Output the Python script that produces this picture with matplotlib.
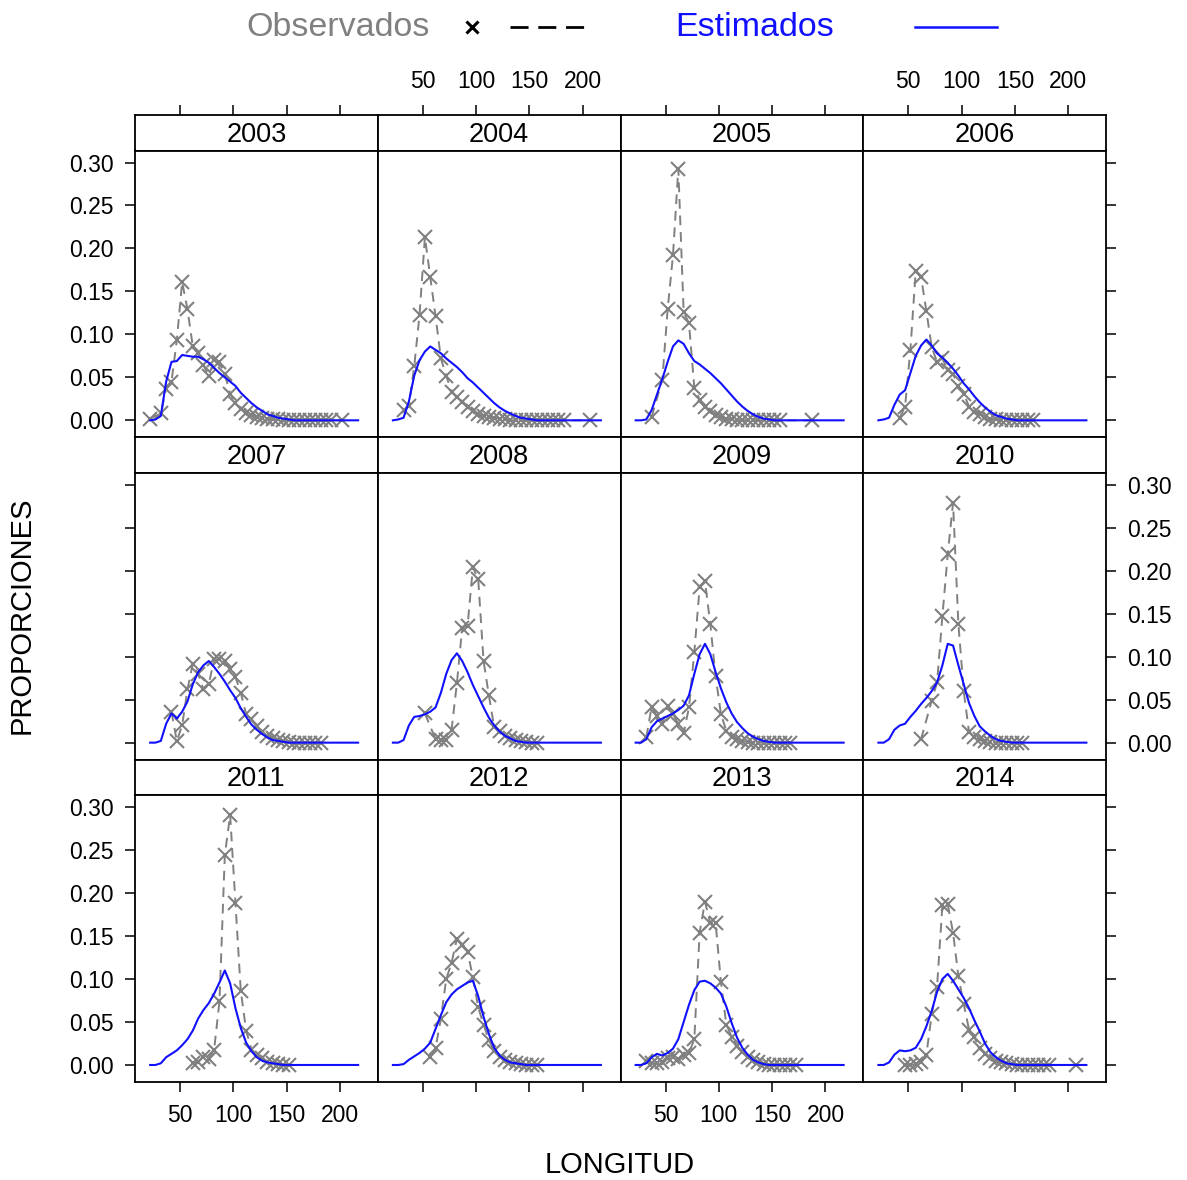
import numpy as np
import matplotlib
matplotlib.use('Agg')
import matplotlib.pyplot as plt
from matplotlib.lines import Line2D

nan = np.nan

# --- datos ---
longitud = [22, 27, 32, 37, 42, 47, 52, 57, 62, 67,
            72, 77, 82, 87, 92, 97, 102, 107, 112, 117,
            122, 127, 132, 137, 142, 147, 152, 157, 162, 167,
            172, 177, 182, 187, 192, 197, 202, 207, 212, 217]
anios = [2003, 2004, 2005, 2006, 2007, 2008, 2009, 2010, 2011, 2012, 2013, 2014]

z10 = [0]*10
n10 = [nan]*10

obs_2003 = [.002, nan, .008, .037, .045, .093, .161, .129, .086, .078,
            .064, .052, .070, .068, .054, .031, .020, .013, .009, .006,
            .004, .003, .002, .001, .001, 0, 0, 0, 0, 0,
            0, 0, 0, 0, 0, nan, 0, nan, nan, nan]
est_2003 = [0, .001, .005, .045, .068, .069, .076, .075, .074, .074,
            .071, .067, .061, .055, .050, .045, .040, .032, .026, .020,
            .015, .011, .007, .005, .003, .002, .001, 0, 0, 0] + z10

obs_2004 = [nan, nan, .012, .017, .063, .123, .213, .167, .121, .072,
            .052, .033, .027, .021, .016, .011, .007, .005, .004, .003,
            .002, .001, 0, 0, 0, 0, 0, 0, 0, 0,
            0, 0, 0, nan, nan, nan, nan, 0, nan, nan]
est_2004 = [0, .001, .003, .022, .052, .070, .080, .086, .082, .078,
            .072, .067, .062, .056, .049, .044, .038, .032, .026, .020,
            .015, .011, .008, .005, .003, .002, .001, 0, 0, 0] + z10

obs_2005 = [nan, nan, nan, .004, nan, .047, .129, .192, .293, .126,
            .113, .038, .024, .016, .011, .006, .004, .002, .001, 0,
            0, 0, 0, 0, 0, 0, 0, 0, nan, nan,
            nan, nan, nan, 0, nan, nan, nan, nan, nan, nan]
est_2005 = [0, 0, .001, .012, .030, .048, .068, .086, .093, .089,
            .078, .069, .065, .060, .055, .049, .043, .036, .029, .022,
            .016, .011, .007, .004, .002, .001, 0, 0, 0, 0] + z10

obs_2006 = [nan, nan, nan, nan, .003, .016, .082, .174, .167, .127,
            .085, .068, .072, .058, .054, .040, .031, .016, .010, .007,
            .004, .002, .001, 0, 0, 0, 0, 0, 0, 0] + n10
est_2006 = [0, .001, .003, .018, .030, .035, .055, .075, .087, .094,
            .087, .078, .073, .067, .060, .052, .043, .036, .028, .021,
            .015, .010, .006, .004, .002, .001, 0, 0, 0, 0] + z10

obs_2007 = [nan, nan, nan, nan, .036, .002, .020, .062, .092, .080,
            .062, .068, .097, .097, .095, .086, .076, .058, .033, .027,
            .019, .012, .008, .005, .003, .002, .001, 0, 0, 0,
            0, 0, 0, nan, nan, nan, nan, nan, nan, nan]
est_2007 = [0, 0, .002, .022, .034, .028, .036, .048, .068, .082,
            .090, .095, .088, .080, .071, .061, .052, .040, .030, .021,
            .015, .010, .006, .003, .002, .001, 0, 0, 0, 0] + z10

obs_2008 = [nan, nan, nan, nan, nan, nan, .034, nan, .004, .003,
            .003, .015, .069, .134, .136, .204, .190, .095, .055, .018,
            .013, .008, .005, .003, .002, .001, 0, 0, nan, nan] + n10
est_2008 = [0, 0, .003, .020, .030, .031, .033, .036, .041, .058,
            .080, .096, .104, .095, .082, .067, .054, .041, .029, .020,
            .013, .008, .005, .002, .001, 0, 0, 0, 0, 0] + z10

obs_2009 = [nan, nan, .006, .042, .031, .022, .043, .033, .022, .011,
            .041, .105, .181, .188, .138, .077, .033, .014, .006, .004,
            .002, .001, 0, 0, 0, 0, 0, 0, 0, 0] + n10
est_2009 = [0, 0, .004, .018, .025, .028, .031, .034, .038, .043,
            .055, .080, .103, .115, .103, .082, .063, .047, .034, .024,
            .017, .011, .007, .004, .002, .001, 0, 0, 0, 0] + z10

obs_2010 = [nan, nan, nan, nan, nan, nan, nan, nan, .004, nan,
            .049, .070, .147, .219, .279, .138, .060, .012, .007, .004,
            .002, .001, 0, 0, 0, 0, 0, 0, nan, nan] + n10
est_2010 = [0, 0, .004, .015, .020, .022, .030, .037, .045, .052,
            .060, .070, .090, .115, .113, .090, .068, .046, .031, .019,
            .013, .008, .004, .002, .001, 0, 0, 0, 0, 0] + z10

obs_2011 = [nan, nan, nan, nan, nan, nan, nan, nan, .002, .004,
            .009, .007, .018, .074, .244, .291, .188, .086, .040, .018,
            .012, .008, .004, .002, .001, 0, 0, nan, nan, nan] + n10
est_2011 = [0, 0, .002, .009, .013, .017, .023, .030, .040, .054,
            .064, .072, .083, .096, .110, .095, .066, .043, .026, .016,
            .009, .005, .003, .002, .001, 0, 0, 0, 0, 0] + z10

obs_2012 = [nan, nan, nan, nan, nan, nan, nan, .009, .020, .054,
            .100, .119, .147, .140, .132, .102, .067, .047, .029, .016,
            .009, .006, .003, .002, .001, 0, 0, 0, nan, nan] + n10
est_2012 = [0, 0, .001, .006, .010, .014, .019, .026, .042, .058,
            .073, .082, .088, .092, .096, .098, .080, .056, .036, .020,
            .011, .006, .003, .002, .001, 0, 0, 0, 0, 0] + z10

obs_2013 = [nan, nan, .005, .002, .002, .004, .008, .009, .007, .012,
            .014, .030, .154, .190, .165, .165, .096, .047, .033, .022,
            .015, .009, .006, .003, .001, 0, 0, 0, 0, 0,
            0, nan, nan, nan, nan, nan, nan, nan, nan, nan]
est_2013 = [0, 0, .002, .009, .013, .011, .014, .019, .030, .050,
            .070, .087, .097, .098, .095, .090, .083, .068, .049, .032,
            .020, .012, .006, .003, .001, 0, 0, 0, 0, 0] + z10

obs_2014 = [nan, nan, nan, nan, nan, 0, 0, .001, .003, .012,
            .059, .091, .186, .187, .154, .103, .071, .041, .032, .020,
            .013, .008, .005, .003, .002, .001, 0, 0, 0, 0,
            0, 0, 0, nan, nan, nan, nan, 0, nan, nan]
est_2014 = [0, 0, .003, .012, .017, .016, .017, .020, .030, .045,
            .063, .085, .100, .106, .098, .088, .078, .066, .052, .039,
            .025, .015, .009, .005, .002, .001, 0, 0, 0, 0] + z10

observados = [obs_2003, obs_2004, obs_2005, obs_2006, obs_2007, obs_2008,
              obs_2009, obs_2010, obs_2011, obs_2012, obs_2013, obs_2014]
estimados = [est_2003, est_2004, est_2005, est_2006, est_2007, est_2008,
             est_2009, est_2010, est_2011, est_2012, est_2013, est_2014]

yticks = [0.00, 0.05, 0.10, 0.15, 0.20, 0.25, 0.30]
xticks = [50, 100, 150, 200]

# --- figura ---
plt.rcParams['font.family'] = ['Liberation Sans', 'DejaVu Sans']
W, H = 1187, 1180
fig = plt.figure(figsize=(W/100, H/100), dpi=100)

x0, cw = 135, 242.75          # panel columns (px)
y0, rh, sh = 115, 322.33, 35.5  # row height and strip height (px)
xlim = (7.8, 235.4)
ylim = (-0.0198, 0.314)
gris = '#808080'
azul = '#1010ff'
tk = dict(direction='out', length=7.5, width=1.1, labelsize=16.5, pad=8)

x = np.array(longitud, dtype=float)
for k, anio in enumerate(anios):
    r, c = divmod(k, 4)
    left = (x0 + c*cw)/W
    top = y0 + r*rh
    sax = fig.add_axes([left, 1-(top+sh)/H, cw/W, sh/H])
    ax = fig.add_axes([left, 1-(top+rh)/H, cw/W, (rh-sh)/H])

    o = np.array(observados[k], dtype=float)
    m = ~np.isnan(o)
    ax.plot(x[m], o[m], color=gris, lw=1.4, dashes=(5, 3.5),
            marker='x', ms=10, mew=1.5)
    ax.plot(x, estimados[k], color=azul, lw=1.5)

    ax.set_xlim(xlim); ax.set_ylim(ylim)
    ax.set_xticks(xticks); ax.set_yticks(yticks)
    ax.yaxis.set_major_formatter(matplotlib.ticker.FormatStrFormatter('%.2f'))
    ax.tick_params(**tk)
    ax.tick_params(left=(c == 0), right=(c == 3),
                   labelleft=(c == 0 and r != 1), labelright=(c == 3 and r == 1),
                   bottom=(r == 2), labelbottom=(r == 2 and c in (0, 2)),
                   top=False, labeltop=False)

    sax.set_xlim(xlim)
    sax.set_yticks([])
    sax.set_xticks(xticks)
    sax.tick_params(**tk)
    sax.tick_params(bottom=False, labelbottom=False,
                    top=(r == 0), labeltop=(r == 0 and c in (1, 3)))
    sax.text(0.5, 0.45, str(anio), transform=sax.transAxes,
             ha='center', va='center', fontsize=19.5)
    for a in (ax, sax):
        for s in a.spines.values():
            s.set_linewidth(1.3)

fig.text(22/W, 1-615/H, 'PROPORCIONES', rotation=90, ha='center', va='center', fontsize=21)
fig.text(620/W, 1-1165/H, 'LONGITUD', ha='center', va='center', fontsize=21)

# --- leyenda ---
ly = 1-27/H
fig.text(338/W, ly, 'Observados', color=gris, ha='center', va='center', fontsize=24.5)
fig.add_artist(Line2D([472/W], [ly], transform=fig.transFigure, marker='x',
                      color='black', ms=9, mew=2.2, ls='none'))
fig.add_artist(Line2D([510/W, 585/W], [ly, ly], transform=fig.transFigure,
                      color='black', lw=2, dashes=(6.5, 3.5)))
fig.text(755/W, ly, 'Estimados', color=azul, ha='center', va='center', fontsize=24.5)
fig.add_artist(Line2D([915/W, 997/W], [ly, ly], transform=fig.transFigure,
                      color=azul, lw=1.8))

fig.savefig('out.png', dpi=100)
